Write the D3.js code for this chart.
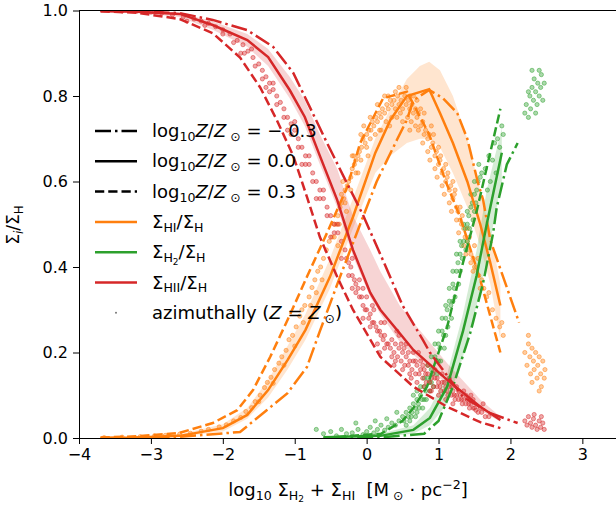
<!DOCTYPE html>
<html>
<head>
<meta charset="utf-8">
<script src="https://cdn.jsdelivr.net/npm/d3@7"></script>
<style>
body { margin: 0; background: #fff; }
svg { font-family: "DejaVu Sans", sans-serif; }
svg text { white-space: pre; }
.axis text { font-size: 16px; fill: #000; font-family: "DejaVu Sans", sans-serif; }
.axis path, .axis line { stroke: #000; stroke-width: 1; }
</style>
</head>
<body>
<div id="chart"></div>
<script>
// tick values
var xTicks = [-4, -3, -2, -1, 0, 1, 2, 3];
var yTicks = [0, 0.2, 0.4, 0.6, 0.8, 1.0];

// model curves [log10 sigma, fraction], one per metallicity
var hiiZm03 = [[-3.7,0.999],[-3.2,0.998],[-2.6,0.994],[-2.14,0.978],[-1.66,0.954],[-1.3,0.915],[-1.02,0.854],[-0.79,0.774],[-0.55,0.69],[-0.3,0.605],[-0.06,0.525],[0.19,0.43],[0.5,0.31],[0.78,0.23],[0.88,0.2],[1.34,0.096],[1.72,0.058],[2.1,0.035]];
var hiiZ00 = [[-3.7,0.999],[-3.2,0.997],[-2.6,0.992],[-2.14,0.966],[-1.66,0.931],[-1.37,0.891],[-1.07,0.814],[-0.86,0.751],[-0.65,0.66],[-0.41,0.557],[-0.19,0.44],[0.05,0.34],[0.19,0.30],[0.46,0.245],[0.65,0.206],[1.12,0.136],[1.58,0.073],[1.86,0.042]];
var hiiZp03 = [[-3.7,0.998],[-3.2,0.995],[-2.6,0.98],[-2.14,0.947],[-1.76,0.89],[-1.48,0.82],[-1.25,0.744],[-1.02,0.66],[-0.83,0.564],[-0.65,0.47],[-0.41,0.377],[-0.19,0.30],[0.19,0.19],[0.65,0.12],[1.12,0.073],[1.58,0.037],[1.86,0.023]];

var hiZm03 = [[-3.7,0.0],[-3.2,0.001],[-2.6,0.003],[-1.76,0.014],[-1.39,0.065],[-1.1,0.105],[-0.83,0.166],[-0.65,0.25],[-0.37,0.377],[-0.09,0.50],[0.14,0.60],[0.42,0.697],[0.56,0.744],[0.65,0.79],[0.87,0.814],[1.06,0.795],[1.26,0.76],[1.4,0.70],[1.55,0.596],[1.62,0.557],[1.72,0.463],[2.12,0.27]];
var hiZ00 = [[-3.7,0.0],[-3.2,0.001],[-2.6,0.005],[-2.0,0.023],[-1.66,0.054],[-1.37,0.112],[-1.1,0.182],[-0.85,0.253],[-0.51,0.377],[-0.19,0.517],[0.12,0.667],[0.33,0.744],[0.56,0.80],[0.87,0.816],[1.02,0.76],[1.2,0.69],[1.4,0.6],[1.58,0.5],[1.72,0.41],[1.86,0.31]];
var hiZp03 = [[-3.7,0.001],[-3.2,0.004],[-2.6,0.012],[-2.14,0.035],[-1.8,0.065],[-1.58,0.112],[-1.34,0.19],[-1.1,0.276],[-0.83,0.377],[-0.55,0.48],[-0.27,0.587],[-0.09,0.69],[0.23,0.795],[0.56,0.81],[0.87,0.71],[1.1,0.6],[1.3,0.517],[1.58,0.37],[1.86,0.2]];

var h2Zm03 = [[-0.5,0.0],[0.3,0.003],[0.8,0.01],[1.0,0.04],[1.2,0.12],[1.44,0.245],[1.62,0.363],[1.76,0.48],[1.81,0.54],[1.95,0.64],[2.1,0.69]];
var h2Z00 = [[-0.6,0.002],[0.19,0.005],[0.65,0.019],[0.88,0.047],[1.12,0.12],[1.34,0.25],[1.53,0.38],[1.67,0.5],[1.88,0.667]];
var h2Zp03 = [[-0.6,0.0],[0.2,0.01],[0.5,0.04],[0.65,0.07],[0.84,0.12],[1.12,0.26],[1.34,0.41],[1.53,0.53],[1.86,0.77]];

// shaded spread around the solar-metallicity curve [x, low, high]
var hiiBand = [[-3.7,0.998,1.0],[-3.2,0.995,0.999],[-2.6,0.985,0.995],[-2.14,0.955,0.975],[-1.66,0.915,0.945],[-1.37,0.87,0.91],[-1.07,0.795,0.845],[-0.86,0.73,0.79],[-0.65,0.64,0.71],[-0.41,0.54,0.63],[-0.19,0.425,0.52],[0.05,0.33,0.44],[0.19,0.29,0.39],[0.46,0.225,0.31],[0.65,0.195,0.27],[1.12,0.125,0.175],[1.58,0.065,0.09],[1.86,0.038,0.05]];
var hiBand = [[-3.7,0.0,0.001],[-3.2,0.0,0.003],[-2.6,0.003,0.009],[-2.0,0.015,0.032],[-1.66,0.045,0.07],[-1.37,0.095,0.135],[-1.1,0.16,0.215],[-0.85,0.23,0.29],[-0.51,0.35,0.42],[-0.19,0.49,0.56],[0.12,0.62,0.70],[0.33,0.66,0.77],[0.56,0.69,0.84],[0.74,0.70,0.87],[0.87,0.70,0.88],[1.02,0.68,0.86],[1.2,0.62,0.80],[1.4,0.54,0.70],[1.58,0.45,0.58],[1.72,0.36,0.48],[1.86,0.23,0.36]];
var h2Band = [[-0.6,0.0,0.003],[0.19,0.003,0.01],[0.65,0.01,0.03],[0.88,0.03,0.07],[1.12,0.08,0.15],[1.34,0.19,0.29],[1.53,0.31,0.44],[1.67,0.42,0.58],[1.88,0.6,0.725]];

// azimuthally averaged points (Z = Z_sun)
var hiPts = [[-3.65,0.001],[-3.4,0.002],[-3.15,0.003],[-2.95,0.005],[-2.8,0.006],[-2.6,0.009],[-2.45,0.011],[-2.3,0.016],[-2.2,0.02],[-2.05,0.026],[-1.95,0.031],[-1.85,0.04],
  [-1.75,0.048],[-1.68,0.062],[-1.6,0.071],[-1.55,0.085],[-1.48,0.1],[-1.42,0.118],[-1.38,0.13],[-1.33,0.142],[-1.28,0.16],[-1.22,0.175],[-1.18,0.19],[-1.12,0.205],[-1.08,0.23],[-1.03,0.24],[-0.98,0.26],[-0.93,0.285],[-0.9,0.3],[-0.86,0.31],[-0.8,0.33],[-0.76,0.352],[-0.72,0.37],[-0.68,0.39],[-0.64,0.4],[-0.6,0.42],[-0.56,0.44],
  [-1.5,0.085],[-1.3,0.128],[-1.15,0.17],[-1.0,0.215],[-0.88,0.27],[-0.78,0.31],[-0.7,0.34],[-0.62,0.37],
  [-0.52,0.46],[-0.48,0.47],[-0.45,0.5],[-0.42,0.5],[-0.4,0.52],[-0.37,0.54],[-0.35,0.55],[-0.32,0.56],[-0.3,0.58],[-0.27,0.59],[-0.25,0.6],[-0.22,0.61],[-0.2,0.63],[-0.17,0.64],[-0.15,0.65],[-0.12,0.66],[-0.1,0.67],[-0.07,0.68],[-0.05,0.7],[-0.02,0.69],[0.0,0.71],[0.03,0.72],[0.06,0.72],[0.08,0.74],
  [-0.45,0.47],[-0.38,0.5],[-0.3,0.55],[-0.22,0.58],[-0.15,0.62],[-0.08,0.65],[0.0,0.68],[0.05,0.7],[-0.33,0.6],[-0.18,0.66],[-0.04,0.73],
  [0.1,0.73],[0.13,0.75],[0.15,0.74],[0.18,0.76],[0.2,0.75],[0.22,0.77],[0.25,0.76],[0.28,0.78],[0.3,0.77],[0.33,0.79],[0.35,0.78],[0.38,0.79],[0.4,0.77],[0.43,0.8],[0.45,0.78],[0.48,0.79],[0.5,0.77],[0.53,0.8],[0.55,0.78],[0.58,0.79],[0.6,0.77],[0.63,0.78],[0.65,0.76],[0.68,0.77],[0.7,0.75],[0.72,0.76],[0.75,0.73],[0.78,0.74],[0.8,0.71],
  [0.12,0.71],[0.2,0.72],[0.27,0.74],[0.35,0.75],[0.42,0.75],[0.5,0.74],[0.57,0.75],[0.62,0.74],[0.68,0.73],[0.25,0.8],[0.4,0.81],[0.55,0.82],[0.65,0.8],
  [0.82,0.72],[0.85,0.7],[0.87,0.71],[0.9,0.68],[0.92,0.69],[0.95,0.66],[0.97,0.67],[1.0,0.64],[1.02,0.65],[1.05,0.62],[1.07,0.63],[1.1,0.6],[1.12,0.61],[1.15,0.58],[1.17,0.59],[1.2,0.56],[1.22,0.57],[1.25,0.54],[1.27,0.53],[1.3,0.51],[1.32,0.5],[1.35,0.49],[1.37,0.47],[1.4,0.46],[1.42,0.44],[1.45,0.43],[1.48,0.42],[1.5,0.4],[1.53,0.4],[1.56,0.38],[1.6,0.37],
  [0.85,0.67],[0.95,0.63],[1.05,0.59],[1.15,0.55],[1.25,0.51],[1.35,0.45],[1.45,0.41],[0.9,0.73],[1.0,0.68],[1.1,0.64],[1.2,0.6],[1.3,0.54],[1.4,0.49],[1.5,0.45],
  [0.15,0.78],[0.3,0.8],[0.45,0.82],[0.6,0.8],[0.7,0.79],[0.75,0.77],[0.8,0.76],[0.18,0.72],[0.32,0.73],[0.47,0.76],[0.6,0.72],[0.72,0.72],[0.78,0.69],[0.88,0.65],[0.98,0.61],[1.08,0.57],[1.18,0.53],[1.28,0.48],[1.38,0.43],[1.48,0.39],[0.93,0.71],[1.03,0.66],[1.13,0.62],[1.23,0.58],[1.33,0.52],[1.43,0.47],[1.55,0.42],[1.58,0.35],
  [-0.4,0.45],[-0.28,0.53],[-0.12,0.62],[0.02,0.66],[-0.35,0.57],[-0.2,0.66],[-0.08,0.71],[0.05,0.75],
  [1.63,0.35],[1.67,0.33],[1.7,0.34],[1.75,0.3],[1.8,0.28],[1.85,0.26],[1.9,0.24],[1.88,0.27],
  [2.2,0.2],[2.23,0.17],[2.25,0.22],[2.27,0.19],[2.28,0.15],[2.3,0.21],[2.32,0.18],[2.33,0.16],[2.35,0.2],[2.37,0.14],[2.38,0.17],[2.4,0.19],[2.42,0.15],[2.43,0.12],[2.45,0.18],[2.47,0.14],[2.48,0.16],[2.3,0.13],[2.4,0.11],[2.25,0.24]];

var hiiPts = [[-3.4,0.999],[-3.2,0.998],[-3.0,0.996],[-2.85,0.994],[-2.7,0.99],[-2.55,0.985],[-2.4,0.98],[-2.3,0.975],[-2.2,0.97],[-2.1,0.962],[-2.0,0.955],[-1.9,0.945],[-1.8,0.93],[-1.72,0.92],[-1.65,0.905],[-1.58,0.89],[-1.5,0.875],[-1.45,0.86],[-1.4,0.845],[-1.35,0.83],[-1.3,0.815],[-1.25,0.8],[-1.2,0.785],[-1.15,0.77],[-1.1,0.75],[-1.05,0.735],[-1.0,0.72],[-0.95,0.7],[-0.9,0.68],[-0.85,0.66],[-0.8,0.64],[-0.75,0.62],[-0.7,0.6],[-0.65,0.58],[-0.6,0.56],[-0.55,0.54],[-0.5,0.52],[-0.45,0.5],[-0.4,0.48],[-0.35,0.46],
  [-2.5,0.975],[-2.25,0.965],[-2.0,0.945],[-1.85,0.925],[-1.7,0.9],[-1.55,0.87],[-1.45,0.84],[-1.35,0.81],[-1.25,0.78],[-1.15,0.75],[-1.05,0.71],[-0.95,0.68],[-0.85,0.64],[-0.75,0.6],[-0.65,0.56],[-0.55,0.52],[-0.45,0.48],[-1.6,0.91],[-1.3,0.83],[-1.0,0.74],[-0.8,0.66],[-0.6,0.58],[-0.4,0.5],
  [-0.2,0.35],[-0.35,0.42],[-0.5,0.47],[-0.7,0.56],[-0.9,0.64],[-1.1,0.72],[-1.4,0.82],[-1.75,0.9],
  [-0.3,0.44],[-0.28,0.42],[-0.25,0.41],[-0.22,0.4],[-0.2,0.38],[-0.17,0.37],[-0.15,0.36],[-0.12,0.35],[-0.1,0.33],[-0.07,0.33],[-0.05,0.31],[-0.02,0.3],[0.0,0.3],[0.03,0.28],[0.05,0.29],[0.08,0.27],[0.1,0.27],[0.13,0.26],[0.15,0.25],[0.18,0.25],[0.2,0.24],[0.23,0.23],[0.25,0.24],[0.28,0.22],[0.3,0.22],
  [-0.25,0.38],[-0.15,0.34],[-0.05,0.28],[0.05,0.26],[0.15,0.22],[0.25,0.21],[-0.2,0.42],[-0.1,0.37],[0.0,0.33],[0.1,0.3],[0.2,0.27],[-0.05,0.35],[0.08,0.31],[0.18,0.2],
  [0.33,0.21],[0.35,0.23],[0.38,0.2],[0.4,0.22],[0.43,0.19],[0.45,0.21],[0.48,0.18],[0.5,0.2],[0.53,0.17],[0.55,0.19],[0.58,0.17],[0.6,0.18],[0.63,0.16],[0.65,0.18],[0.68,0.15],[0.7,0.17],[0.73,0.15],[0.75,0.16],[0.78,0.14],[0.8,0.16],[0.83,0.13],[0.85,0.15],[0.88,0.13],[0.9,0.14],[0.93,0.12],[0.95,0.14],[0.98,0.12],[1.0,0.13],[1.03,0.11],[1.05,0.13],[1.08,0.11],[1.1,0.12],[1.13,0.1],[1.15,0.12],[1.18,0.1],[1.2,0.11],[1.23,0.09],[1.25,0.1],[1.28,0.09],[1.3,0.1],[1.33,0.08],[1.35,0.09],[1.38,0.08],[1.4,0.09],[1.43,0.07],[1.45,0.08],[1.48,0.07],[1.5,0.07],[1.55,0.06],[1.6,0.06],[1.65,0.05],[1.7,0.05],
  [0.4,0.18],[0.5,0.16],[0.6,0.15],[0.7,0.13],[0.8,0.12],[0.9,0.11],[1.0,0.1],[1.1,0.09],[1.2,0.08],[0.45,0.24],[0.55,0.22],[0.65,0.2],[0.75,0.18],[0.85,0.17],[0.95,0.16],[1.05,0.15],[1.15,0.14],[1.25,0.12],[1.35,0.11],[1.45,0.1],
  [0.25,0.27],[0.35,0.19],[0.42,0.25],[0.52,0.21],[0.62,0.14],[0.72,0.2],[0.82,0.15],[0.92,0.15],[1.02,0.12],[1.12,0.11],[1.22,0.1],[1.32,0.09],[1.42,0.08],[1.52,0.065],[0.38,0.17],[0.48,0.22],[0.58,0.2],[0.68,0.18],[0.78,0.17],[0.88,0.11],[0.98,0.14],[1.08,0.13],[1.18,0.12],[1.28,0.11],[1.38,0.1],[1.48,0.09],[1.58,0.07],[1.62,0.08],
  [2.2,0.04],[2.23,0.03],[2.25,0.05],[2.28,0.035],[2.3,0.025],[2.32,0.045],[2.35,0.03],[2.37,0.02],[2.4,0.04],[2.42,0.025],[2.45,0.035],[2.47,0.02],[2.33,0.055],[2.43,0.05]];

var h2Pts = [[-0.7,0.02],[-0.6,0.01],[-0.5,0.015],[-0.42,0.005],[-0.35,0.02],[-0.28,0.01],[-0.2,0.012],[-0.12,0.02],[-0.05,0.008],[0.0,0.015],[0.05,0.025],[0.1,0.012],[0.15,0.02],[0.2,0.03],[0.25,0.018],[0.3,0.025],[0.35,0.035],[0.4,0.03],[0.45,0.04],[0.5,0.05],[-0.15,0.035],[0.12,0.04],[0.28,0.045],[0.42,0.06],
  [0.52,0.04],[0.55,0.06],[0.58,0.05],[0.6,0.07],[0.63,0.06],[0.65,0.08],[0.68,0.07],[0.7,0.09],[0.72,0.08],[0.75,0.1],[0.77,0.09],[0.8,0.12],[0.82,0.11],[0.85,0.14],[0.87,0.13],[0.9,0.16],[0.92,0.15],[0.95,0.19],[0.97,0.18],[1.0,0.22],[1.02,0.21],[1.05,0.25],[1.07,0.24],[1.1,0.28],[1.12,0.3],[1.15,0.32],[1.17,0.31],[1.2,0.36],[1.22,0.35],[1.25,0.39],[1.27,0.41],[1.3,0.43],[1.32,0.45],[1.35,0.46],[1.37,0.49],[1.4,0.5],[1.42,0.52],[1.45,0.54],[1.47,0.55],[1.5,0.57],[1.53,0.58],[1.55,0.6],[1.58,0.61],[1.6,0.62],
  [0.6,0.04],[0.7,0.06],[0.8,0.09],[0.9,0.13],[1.0,0.18],[1.1,0.24],[1.2,0.32],[1.3,0.39],[1.4,0.46],[1.5,0.53],[0.65,0.1],[0.75,0.12],[0.85,0.17],[0.95,0.22],[1.05,0.28],[1.15,0.35],[1.25,0.43],[1.35,0.5],[1.45,0.57],
  [0.55,0.03],[0.62,0.05],[0.68,0.05],[0.73,0.07],[0.78,0.07],[0.83,0.09],[0.88,0.11],[0.93,0.12],[0.98,0.15],[1.03,0.18],[1.08,0.21],[1.13,0.26],[1.18,0.28],[1.23,0.33],[1.28,0.36],[1.33,0.42],[1.38,0.44],[1.43,0.49],[1.48,0.51],[1.52,0.55],[0.7,0.11],[0.8,0.14],[0.9,0.19],[1.0,0.25],[1.1,0.31],[1.2,0.39],[1.3,0.46],[1.4,0.53],[1.5,0.6],[1.56,0.64],
  [1.65,0.63],[1.7,0.66],[1.75,0.65],[1.78,0.69],[1.82,0.7],[1.85,0.68],[1.88,0.73],[1.9,0.71],[1.72,0.6],[1.8,0.62],[1.68,0.58],
  [2.2,0.76],[2.22,0.78],[2.25,0.75],[2.27,0.8],[2.28,0.77],[2.3,0.82],[2.32,0.79],[2.33,0.84],[2.35,0.81],[2.37,0.78],[2.38,0.83],[2.4,0.8],[2.42,0.82],[2.43,0.85],[2.45,0.79],[2.47,0.83],[2.3,0.86],[2.4,0.86],[2.25,0.81],[2.35,0.76]];

var cOrange = "#ff7f0e", cGreen = "#2ca02c", cRed = "#d62728";
var dashed = "9.25,4", dashDot = "16,4,2.5,4";

// set the dimensions and margins of the graph
var margin = {top: 10.5, left: 79},
    width = 539.3,
    height = 427.5;

var x = d3.scaleLinear().domain([-4, 3.5]).range([0, width]);
var y = d3.scaleLinear().domain([0, 1]).range([height, 0]);

var base = d3.select("#chart").append("svg")
    .attr("width", 616)
    .attr("height", 509);

var svg = base.append("g")
    .attr("transform", "translate(" + margin.left + "," + margin.top + ")");

svg.append("clipPath").attr("id", "clip")
  .append("rect").attr("width", width).attr("height", height);

var plot = svg.append("g").attr("clip-path", "url(#clip)");

var line = d3.line()
    .x(function(d) { return x(d[0]); })
    .y(function(d) { return y(d[1]); });

var area = d3.area()
    .x(function(d) { return x(d[0]); })
    .y0(function(d) { return y(d[1]); })
    .y1(function(d) { return y(d[2]); });

// shaded bands
[[hiBand, cOrange], [h2Band, cGreen], [hiiBand, cRed]].forEach(function(b) {
  plot.append("path").datum(b[0])
      .attr("d", area)
      .attr("fill", b[1])
      .attr("fill-opacity", 0.2);
});

// azimuthal points
[[hiPts, cOrange], [h2Pts, cGreen], [hiiPts, cRed]].forEach(function(p) {
  plot.append("g").selectAll("circle")
      .data(p[0]).enter().append("circle")
      .attr("cx", function(d) { return x(d[0]); })
      .attr("cy", function(d) { return y(d[1]); })
      .attr("r", 2.1)
      .attr("fill", p[1])
      .attr("fill-opacity", 0.4)
      .attr("stroke", p[1])
      .attr("stroke-opacity", 0.7)
      .attr("stroke-width", 0.7);
});

// model lines
var curves = [
  [hiZm03, cOrange, dashDot], [hiZ00, cOrange, null], [hiZp03, cOrange, dashed],
  [h2Zm03, cGreen, dashDot], [h2Z00, cGreen, null], [h2Zp03, cGreen, dashed],
  [hiiZm03, cRed, dashDot], [hiiZ00, cRed, null], [hiiZp03, cRed, dashed]
];
curves.forEach(function(c) {
  plot.append("path").datum(c[0])
      .attr("d", line)
      .attr("fill", "none")
      .attr("stroke", c[1])
      .attr("stroke-width", 2.5)
      .attr("stroke-dasharray", c[2]);
});

// axes
svg.append("g")
    .attr("class", "axis")
    .attr("transform", "translate(0," + height + ")")
    .call(d3.axisBottom(x).tickValues(xTicks).tickSize(6).tickPadding(5).tickSizeOuter(0));

svg.append("g")
    .attr("class", "axis")
    .call(d3.axisLeft(y).tickValues(yTicks).tickFormat(d3.format(".1f")).tickSize(6).tickPadding(5).tickSizeOuter(0));

svg.append("line")
    .attr("x1", 0).attr("x2", width)
    .attr("y1", 0).attr("y2", 0)
    .attr("stroke", "#000");
svg.append("line")
    .attr("x1", width).attr("x2", width)
    .attr("y1", 0).attr("y2", height)
    .attr("stroke", "#000");

// little helper for mathtext-like labels
function mathText(t, parts, size) {
  var cur = 0;
  parts.forEach(function(p) {
    var shift = 0, fs = size;
    if (p.sub) { shift = 0.22 * size; fs = 0.7 * size; }
    if (p.ss) { shift = 0.36 * size; fs = 0.5 * size; }
    if (p.sup) { shift = -0.38 * size; fs = 0.7 * size; }
    t.append("tspan")
        .attr("dy", shift - cur)
        .style("font-size", fs + "px")
        .style("font-style", p.it ? "italic" : "normal")
        .text(p.t);
    cur = shift;
  });
}

// x label
mathText(base.append("text").attr("x", 348).attr("y", 496)
    .attr("text-anchor", "middle").attr("fill", "#000"), [
  {t: "log"}, {t: "10", sub: 1}, {t: " Σ"}, {t: "H", sub: 1}, {t: "2", ss: 1},
  {t: " + Σ"}, {t: "HI", sub: 1}, {t: "  [M"}, {t: " ⊙", sub: 1}, {t: " · pc"}, {t: "−2", sup: 1}, {t: "]"}
], 18);

// y label
mathText(base.append("text")
    .attr("transform", "translate(19,225) rotate(-90)")
    .attr("text-anchor", "middle")
    .attr("fill", "#000"), [
  {t: "Σ"}, {t: "i", sub: 1, it: 1}, {t: "/Σ"}, {t: "H", sub: 1}
], 17);

// legend
var legend = base.append("g");
var rowY = function(i) { return 131 + i * 30.3; };
var legendRows = [
  {stroke: "#000", dash: dashDot, parts: [{t: "log"}, {t: "10", sub: 1}, {t: "Z", it: 1}, {t: "/"}, {t: "Z", it: 1}, {t: " ⊙", sub: 1}, {t: " = − 0.3"}]},
  {stroke: "#000", dash: null, parts: [{t: "log"}, {t: "10", sub: 1}, {t: "Z", it: 1}, {t: "/"}, {t: "Z", it: 1}, {t: " ⊙", sub: 1}, {t: " = 0.0"}]},
  {stroke: "#000", dash: dashed, parts: [{t: "log"}, {t: "10", sub: 1}, {t: "Z", it: 1}, {t: "/"}, {t: "Z", it: 1}, {t: " ⊙", sub: 1}, {t: " = 0.3"}]},
  {stroke: cOrange, dash: null, parts: [{t: "Σ"}, {t: "HI", sub: 1}, {t: "/Σ"}, {t: "H", sub: 1}]},
  {stroke: cGreen, dash: null, parts: [{t: "Σ"}, {t: "H", sub: 1}, {t: "2", ss: 1}, {t: "/Σ"}, {t: "H", sub: 1}]},
  {stroke: cRed, dash: null, parts: [{t: "Σ"}, {t: "HII", sub: 1}, {t: "/Σ"}, {t: "H", sub: 1}]},
  {marker: true, parts: [{t: "azimuthally ("}, {t: "Z", it: 1}, {t: " = "}, {t: "Z", it: 1}, {t: " ⊙", sub: 1}, {t: ")"}]}
];
legendRows.forEach(function(r, i) {
  var yy = rowY(i);
  if (r.marker) {
    legend.append("circle").attr("cx", 116).attr("cy", yy).attr("r", 1)
        .attr("fill", "#777");
  } else {
    legend.append("line")
        .attr("x1", 95).attr("x2", 137)
        .attr("y1", yy).attr("y2", yy)
        .attr("stroke", r.stroke)
        .attr("stroke-width", 2.5)
        .attr("stroke-dasharray", r.dash);
  }
  mathText(legend.append("text").attr("x", 152).attr("y", yy + 6).attr("fill", "#000"), r.parts, 18);
});
</script>
</body>
</html>
